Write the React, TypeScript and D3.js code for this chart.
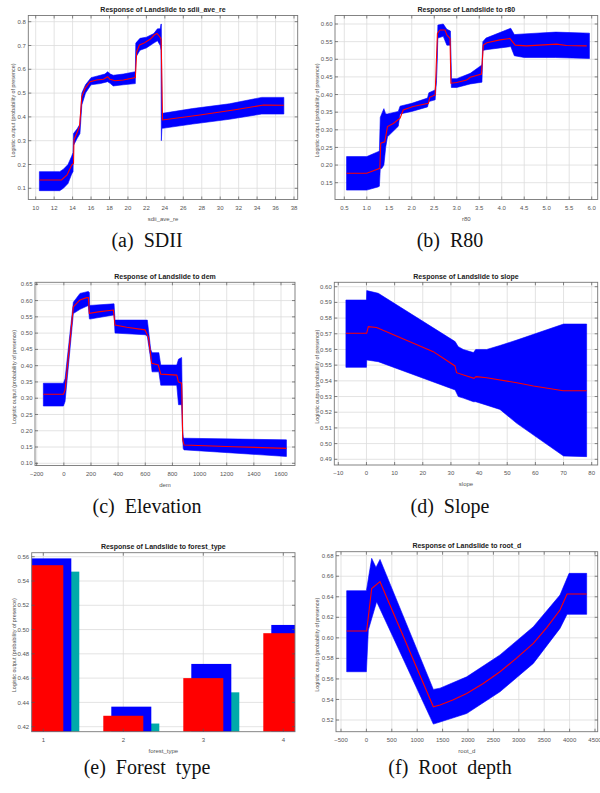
import React from 'react';
import * as d3 from 'd3';

// ---------- (a) SDII ----------
const sdiiMeanX = [10.4, 12.8, 13.4, 13.9, 14.1, 14.15, 14.45, 14.75, 15.0, 15.35, 15.9, 16.6, 17.35, 17.8, 18.05, 18.6, 19.5, 20.8, 20.95, 21.25, 21.7, 22.4, 22.85, 23.15, 23.45, 23.6, 23.75, 27.8, 31.45, 34.7, 36.9];
const sdiiMeanY = [0.135, 0.135, 0.156, 0.198, 0.205, 0.303, 0.331, 0.359, 0.485, 0.52, 0.548, 0.555, 0.558, 0.569, 0.558, 0.552, 0.555, 0.565, 0.674, 0.702, 0.709, 0.726, 0.744, 0.751, 0.737, 0.726, 0.387, 0.408, 0.429, 0.45, 0.449];
const sdiiBandX = [10.4, 12.6, 13.0, 13.5, 13.9, 14.05, 14.1, 14.5, 14.8, 15.0, 15.4, 16.0, 17.0, 17.5, 17.8, 18.1, 18.4, 19.5, 20.8, 20.85, 21.3, 22.0, 22.8, 23.2, 23.5, 23.58, 23.62, 23.68, 23.75, 27.0, 31.0, 34.5, 36.9];
const sdiiBandLo = [0.09, 0.09, 0.10, 0.12, 0.16, 0.17, 0.28, 0.31, 0.33, 0.45, 0.50, 0.535, 0.54, 0.545, 0.548, 0.54, 0.53, 0.535, 0.54, 0.65, 0.68, 0.69, 0.71, 0.72, 0.70, 0.68, 0.30, 0.35, 0.352, 0.37, 0.39, 0.412, 0.412];
const sdiiBandHi = [0.17, 0.17, 0.18, 0.20, 0.235, 0.25, 0.33, 0.35, 0.37, 0.50, 0.535, 0.565, 0.575, 0.58, 0.59, 0.58, 0.575, 0.58, 0.59, 0.71, 0.73, 0.735, 0.75, 0.77, 0.77, 0.79, 0.79, 0.41, 0.415, 0.435, 0.455, 0.482, 0.482];
const sdiiXTicks = [10, 12, 14, 16, 18, 20, 22, 24, 26, 28, 30, 32, 34, 36, 38];
const sdiiYTicks = [0.1, 0.2, 0.3, 0.4, 0.5, 0.6, 0.7, 0.8];

// ---------- (b) R80 ----------
const r80MeanX = [0.55, 1.0, 1.29, 1.31, 1.40, 1.46, 1.59, 1.74, 1.81, 2.03, 2.37, 2.40, 2.52, 2.57, 2.63, 2.74, 2.78, 2.85, 2.87, 3.0, 3.22, 3.30, 3.55, 3.59, 3.67, 3.96, 4.18, 4.30, 4.55, 5.22, 5.44, 5.89];
const r80MeanY = [0.177, 0.177, 0.191, 0.262, 0.266, 0.309, 0.318, 0.333, 0.356, 0.366, 0.375, 0.392, 0.399, 0.573, 0.583, 0.583, 0.569, 0.559, 0.432, 0.434, 0.441, 0.449, 0.458, 0.540, 0.547, 0.555, 0.559, 0.540, 0.538, 0.543, 0.539, 0.538];
const r80BandX = [0.55, 1.0, 1.25, 1.28, 1.30, 1.33, 1.38, 1.42, 1.46, 1.70, 1.74, 2.0, 2.35, 2.38, 2.52, 2.55, 2.58, 2.70, 2.78, 2.86, 2.88, 3.0, 3.3, 3.56, 3.58, 3.65, 4.2, 4.28, 4.5, 5.2, 5.95];
const r80BandLo = [0.129, 0.129, 0.138, 0.14, 0.19, 0.19, 0.2, 0.25, 0.28, 0.31, 0.345, 0.352, 0.365, 0.38, 0.385, 0.44, 0.56, 0.565, 0.54, 0.54, 0.42, 0.42, 0.43, 0.435, 0.525, 0.527, 0.536, 0.51, 0.505, 0.505, 0.502];
const r80BandHi = [0.224, 0.224, 0.238, 0.24, 0.335, 0.345, 0.36, 0.345, 0.345, 0.352, 0.367, 0.375, 0.39, 0.405, 0.413, 0.45, 0.597, 0.60, 0.585, 0.58, 0.445, 0.445, 0.46, 0.484, 0.55, 0.56, 0.588, 0.57, 0.572, 0.577, 0.574];
const r80XTicks = [0.5, 1.0, 1.5, 2.0, 2.5, 3.0, 3.5, 4.0, 4.5, 5.0, 5.5, 6.0];
const r80YTicks = [0.15, 0.2, 0.25, 0.3, 0.35, 0.4, 0.45, 0.5, 0.55, 0.6];

// ---------- (c) Elevation ----------
const demMeanX = [-151, -3, 9, 70, 119, 168, 181, 188, 267, 365, 377, 463, 598, 623, 640, 647, 696, 714, 832, 844, 868, 876, 886, 1249, 1640];
const demMeanY = [0.312, 0.312, 0.325, 0.581, 0.602, 0.609, 0.609, 0.561, 0.566, 0.571, 0.525, 0.518, 0.51, 0.487, 0.433, 0.407, 0.402, 0.374, 0.371, 0.35, 0.346, 0.172, 0.156, 0.151, 0.146];
const demBandX = [-151, -3, 9, 70, 119, 180, 188, 190, 370, 377, 600, 615, 640, 650, 700, 714, 832, 845, 868, 876, 880, 886, 900, 1640];
const demBandLo = [0.276, 0.276, 0.29, 0.56, 0.573, 0.585, 0.545, 0.543, 0.556, 0.5, 0.495, 0.49, 0.42, 0.381, 0.381, 0.34, 0.34, 0.28, 0.28, 0.17, 0.145, 0.141, 0.141, 0.121];
const demBandHi = [0.346, 0.346, 0.36, 0.595, 0.622, 0.628, 0.625, 0.585, 0.59, 0.54, 0.54, 0.54, 0.45, 0.44, 0.44, 0.402, 0.402, 0.42, 0.425, 0.2, 0.18, 0.177, 0.177, 0.172];
const demXTicks = [-200, 0, 200, 400, 600, 800, 1000, 1200, 1400, 1600];
const demYTicks = [0.1, 0.15, 0.2, 0.25, 0.3, 0.35, 0.4, 0.45, 0.5, 0.55, 0.6, 0.65];

// ---------- (d) Slope ----------
const slopeMeanX = [-7.3, 0.07, 0.66, 3.6, 11.9, 23.75, 31.45, 32.0, 35.6, 38.2, 38.9, 42.7, 53.4, 59.3, 69.9, 78.2];
const slopeMeanY = [0.5703, 0.5703, 0.5745, 0.574, 0.5677, 0.5586, 0.5495, 0.5452, 0.5431, 0.5416, 0.5427, 0.542, 0.5388, 0.5367, 0.5337, 0.5337];
const slopeBandX = [-7.3, 0.0, 0.1, 4.2, 31.5, 32.6, 34.4, 38.0, 38.8, 42.7, 47.4, 53.4, 70.0, 78.2];
const slopeBandLo = [0.5486, 0.5486, 0.5533, 0.5522, 0.5342, 0.530, 0.529, 0.5267, 0.5267, 0.5245, 0.5218, 0.5129, 0.4921, 0.4917];
const slopeBandHi = [0.5915, 0.5915, 0.5975, 0.5958, 0.565, 0.5618, 0.560, 0.558, 0.560, 0.560, 0.5625, 0.566, 0.5762, 0.5762];
const slopeXTicks = [-10, 0, 10, 20, 30, 40, 50, 60, 70, 80];
const slopeYTicks = [0.49, 0.5, 0.51, 0.52, 0.53, 0.54, 0.55, 0.56, 0.57, 0.58, 0.59, 0.6];

// ---------- (e) Forest type ----------
const forestCats = [1, 2, 3, 4];
const forestRed = [0.553, 0.429, 0.46, 0.497];
const forestBlue = [0.5586, 0.4365, 0.4717, 0.5038];
const forestTeal = [0.5477, 0.4226, 0.4483, 0.49];
const forestYTicks = [0.42, 0.44, 0.46, 0.48, 0.5, 0.52, 0.54, 0.56];

// ---------- (f) Root depth ----------
const rootMeanX = [-388, 5, 104, 268, 1318, 1449, 1700, 1974, 2300, 2630, 2950, 3286, 3550, 3811, 3950, 4336];
const rootMeanY = [0.6066, 0.6066, 0.648, 0.6547, 0.5329, 0.5346, 0.5395, 0.5459, 0.5555, 0.567, 0.58, 0.5946, 0.61, 0.6271, 0.6427, 0.6427];
const rootUpX = [-388, 0, 104, 189, 268, 1318, 1449, 1974, 2630, 3286, 3811, 3990, 4336];
const rootUpY = [0.6459, 0.6459, 0.6774, 0.6686, 0.6764, 0.5498, 0.551, 0.562, 0.5834, 0.6108, 0.6417, 0.6628, 0.6628];
const rootLoX = [-388, 0, 38, 202, 1318, 1449, 1974, 2630, 3286, 3811, 3950, 4336];
const rootLoY = [0.567, 0.567, 0.6076, 0.6352, 0.516, 0.518, 0.5263, 0.5475, 0.5751, 0.6092, 0.6229, 0.6229];
const rootXTicks = [-500, 0, 500, 1000, 1500, 2000, 2500, 3000, 3500, 4000, 4500];
const rootYTicks = [0.52, 0.54, 0.56, 0.58, 0.6, 0.62, 0.64, 0.66, 0.68];

const YLABEL = 'Logistic output (probability of presence)';

type Box = { x0: number; x1: number; y0: number; y1: number };
type Cfg = {
  id: string;
  title: string;
  xlabel: string;
  caption: string;
  capX: number;
  capY: number;
  ylabX: number;
  box: Box;
  xCal: [number, number, number, number];
  yCal: [number, number, number, number];
  xTicks: number[];
  yTicks: number[];
  xFmt: (v: number) => string;
  yFmt: (v: number) => string;
  up?: [number[], number[]];
  lo?: [number[], number[]];
  mean?: [number[], number[]];
  bars?: boolean;
};

const f1 = d3.format('.1f');
const f2 = d3.format('.2f');
const f0 = d3.format('d');

const panels: Cfg[] = [
  {
    id: 'a', title: 'Response of Landslide to sdii_ave_re', xlabel: 'sdii_ave_re', caption: '(a)  SDII',
    capX: 147, capY: 247, ylabX: 13.5,
    box: { x0: 28.3, x1: 297.7, y0: 15.5, y1: 199.5 },
    xCal: [10, 38, 35.7, 294], yCal: [0.1, 0.8, 188.3, 21.7],
    xTicks: sdiiXTicks, yTicks: sdiiYTicks, xFmt: f0, yFmt: f1,
    up: [sdiiBandX, sdiiBandHi], lo: [sdiiBandX, sdiiBandLo], mean: [sdiiMeanX, sdiiMeanY],
  },
  {
    id: 'b', title: 'Response of Landslide to r80', xlabel: 'r80', caption: '(b)  R80',
    capX: 450, capY: 247, ylabX: 317,
    box: { x0: 335, x1: 597.7, y0: 15.5, y1: 199.5 },
    xCal: [0.5, 6.0, 344.3, 591.7], yCal: [0.15, 0.6, 182.7, 24],
    xTicks: r80XTicks, yTicks: r80YTicks, xFmt: f1, yFmt: f2,
    up: [r80BandX, r80BandHi], lo: [r80BandX, r80BandLo], mean: [r80MeanX, r80MeanY],
  },
  {
    id: 'c', title: 'Response of Landslide to dem', xlabel: 'dem', caption: '(c)  Elevation',
    capX: 147, capY: 513, ylabX: 14,
    box: { x0: 35, x1: 295, y0: 282.3, y1: 465.5 },
    xCal: [-200, 1600, 36.7, 281], yCal: [0.1, 0.65, 463.3, 284.3],
    xTicks: demXTicks, yTicks: demYTicks, xFmt: f0, yFmt: f2,
    up: [demBandX, demBandHi], lo: [demBandX, demBandLo], mean: [demMeanX, demMeanY],
  },
  {
    id: 'd', title: 'Response of Landslide to slope', xlabel: 'slope', caption: '(d)  Slope',
    capX: 450, capY: 513, ylabX: 317,
    box: { x0: 334.3, x1: 597.7, y0: 282.3, y1: 465 },
    xCal: [-10, 80, 338.3, 591.7], yCal: [0.49, 0.6, 459.3, 286.7],
    xTicks: slopeXTicks, yTicks: slopeYTicks, xFmt: f0, yFmt: f2,
    up: [slopeBandX, slopeBandHi], lo: [slopeBandX, slopeBandLo], mean: [slopeMeanX, slopeMeanY],
  },
  {
    id: 'e', title: 'Response of Landslide to forest_type', xlabel: 'forest_type', caption: '(e)  Forest  type',
    capX: 147, capY: 774, ylabX: 14,
    box: { x0: 31.7, x1: 295, y0: 552.7, y1: 731.7 },
    xCal: [1, 4, 43.3, 283.3], yCal: [0.42, 0.56, 726.7, 556.7],
    xTicks: forestCats, yTicks: forestYTicks, xFmt: f0, yFmt: f2,
    bars: true,
  },
  {
    id: 'f', title: 'Response of Landslide to root_d', xlabel: 'root_d', caption: '(f)  Root  depth',
    capX: 450, capY: 774, ylabX: 317,
    box: { x0: 336, x1: 597.7, y0: 551.7, y1: 731.7 },
    xCal: [-500, 4500, 341, 595], yCal: [0.52, 0.68, 720, 555.7],
    xTicks: rootXTicks, yTicks: rootYTicks, xFmt: f0, yFmt: f2,
    up: [rootUpX, rootUpY], lo: [rootLoX, rootLoY], mean: [rootMeanX, rootMeanY],
  },
];

const SANS = '"Liberation Sans", Arial, sans-serif';
const SERIF = '"Liberation Serif", "Times New Roman", serif';

function Panel({ c }: { c: Cfg }) {
  const { box } = c;
  const xs = d3.scaleLinear().domain([c.xCal[0], c.xCal[1]]).range([c.xCal[2], c.xCal[3]]);
  const ys = d3.scaleLinear().domain([c.yCal[0], c.yCal[1]]).range([c.yCal[2], c.yCal[3]]);
  const clipId = `clip-${c.id}`;
  const line = d3.line<[number, number]>().x((d) => xs(d[0])).y((d) => ys(d[1]));

  let bandPath = '';
  let meanPath = '';
  if (c.up && c.lo && c.mean) {
    const upPts: [number, number][] = c.up[0].map((x, i) => [x, c.up![1][i]]);
    const loPts: [number, number][] = c.lo[0].map((x, i) => [x, c.lo![1][i]]).reverse() as [number, number][];
    bandPath = (line([...upPts, ...loPts]) || '') + 'Z';
    meanPath = line(c.mean[0].map((x, i) => [x, c.mean![1][i]] as [number, number])) || '';
  }

  const tickLen = 3;
  const cx = (box.x0 + box.x1) / 2;
  const cy = (box.y0 + box.y1) / 2;

  const barRects = (vals: number[], off: number, color: string) =>
    forestCats.map((cat, i) => {
      const xa = xs(cat - 0.25 + off);
      const xb = xs(cat + 0.25 + off);
      const yt = ys(vals[i]);
      return <rect key={`${color}-${i}`} x={xa} y={yt} width={xb - xa} height={box.y1 - yt + 1} fill={color} />;
    });

  return (
    <g>
      <defs>
        <clipPath id={clipId}>
          <rect x={box.x0} y={box.y0} width={box.x1 - box.x0} height={box.y1 - box.y0} />
        </clipPath>
      </defs>
      <rect x={box.x0} y={box.y0} width={box.x1 - box.x0} height={box.y1 - box.y0} fill="#fff" />
      {c.xTicks.map((t) => (
        <line key={`gx${t}`} x1={xs(t)} x2={xs(t)} y1={box.y0} y2={box.y1} stroke="#dcdcdc" strokeWidth={0.8} />
      ))}
      {c.yTicks.map((t) => (
        <line key={`gy${t}`} x1={box.x0} x2={box.x1} y1={ys(t)} y2={ys(t)} stroke="#dcdcdc" strokeWidth={0.8} />
      ))}
      <g clipPath={`url(#${clipId})`}>
        {bandPath && <path d={bandPath} fill="#0000ff" stroke="#0000ff" strokeWidth={0.6} />}
        {meanPath && <path d={meanPath} fill="none" stroke="#ff0000" strokeWidth={1.1} />}
        {c.bars && (
          <g>
            {barRects(forestTeal, 0.2, '#00aaaa')}
            {barRects(forestBlue, 0.1, '#0000ff')}
            {barRects(forestRed, 0, '#ff0000')}
          </g>
        )}
      </g>
      <rect x={box.x0} y={box.y0} width={box.x1 - box.x0} height={box.y1 - box.y0} fill="none" stroke="#777" strokeWidth={0.9} />
      {c.xTicks.map((t) => (
        <g key={`tx${t}`}>
          <line x1={xs(t)} x2={xs(t)} y1={box.y1} y2={box.y1 - tickLen} stroke="#555" strokeWidth={0.7} />
          <line x1={xs(t)} x2={xs(t)} y1={box.y0} y2={box.y0 + tickLen} stroke="#555" strokeWidth={0.7} />
          <text x={xs(t)} y={box.y1 + 10} fontSize={6} fill="#555" textAnchor="middle" fontFamily={SANS}>
            {c.xFmt(t)}
          </text>
        </g>
      ))}
      {c.yTicks.map((t) => (
        <g key={`ty${t}`}>
          <line x1={box.x0} x2={box.x0 + tickLen} y1={ys(t)} y2={ys(t)} stroke="#555" strokeWidth={0.7} />
          <line x1={box.x1} x2={box.x1 - tickLen} y1={ys(t)} y2={ys(t)} stroke="#555" strokeWidth={0.7} />
          <text x={box.x0 - 2.5} y={ys(t)} dy="0.35em" fontSize={6} fill="#555" textAnchor="end" fontFamily={SANS}>
            {c.yFmt(t)}
          </text>
        </g>
      ))}
      <text x={cx} y={box.y0 - 3.5} fontSize={7} fontWeight="bold" fill="#222" textAnchor="middle" fontFamily={SANS}>
        {c.title}
      </text>
      <text x={cx} y={box.y1 + 21} fontSize={6} fill="#555" textAnchor="middle" fontFamily={SANS}>
        {c.xlabel}
      </text>
      <text
        transform={`translate(${c.ylabX},${cy + 3}) rotate(-90)`}
        dy="0.35em"
        fontSize={5.4}
        fill="#555"
        textAnchor="middle"
        fontFamily={SANS}
      >
        {YLABEL}
      </text>
      <text x={c.capX} y={c.capY} fontSize={20} fill="#111" textAnchor="middle" fontFamily={SERIF} style={{ whiteSpace: 'pre' }}>
        {c.caption}
      </text>
    </g>
  );
}

export default function App() {
  return (
    <svg
      width={600}
      height={793}
      viewBox="0 0 600 793"
      style={{ position: 'absolute', left: 0, top: 0, display: 'block', background: '#fff' }}
    >
      <rect x={0} y={0} width={600} height={793} fill="#fff" />
      {panels.map((p) => (
        <Panel key={p.id} c={p} />
      ))}
    </svg>
  );
}
